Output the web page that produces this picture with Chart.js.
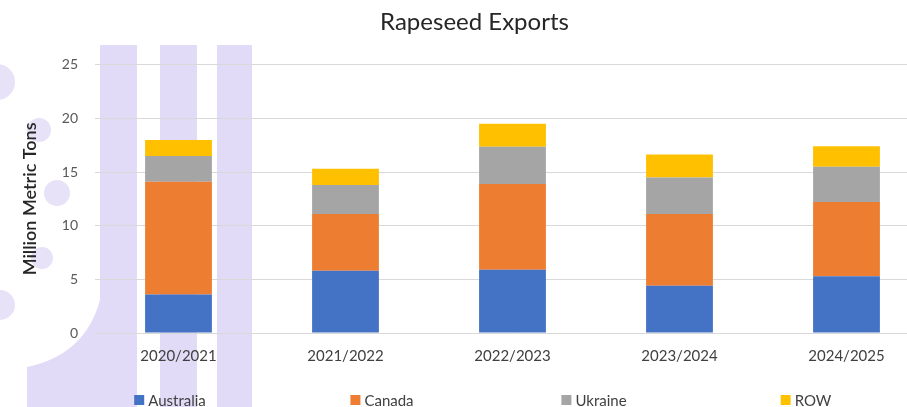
<!DOCTYPE html>
<html>
<head>
<meta charset="utf-8">
<script src="https://cdn.jsdelivr.net/npm/chart.js@4.4.1/dist/chart.umd.min.js"></script>
<style>
  html, body { margin: 0; padding: 0; background: #ffffff; overflow: hidden; }
  #wrap { position: relative; width: 935px; height: 418px; }
</style>
</head>
<body>
<div id="wrap"><canvas id="c"></canvas></div>
<script>
// Marketing years on the category axis
const seasons = ['2020/2021', '2021/2022', '2022/2023', '2023/2024', '2024/2025'];

// Exports by origin, million metric tons
const australia = [3.6, 5.8, 5.9, 4.4, 5.3];
const canada    = [10.5, 5.3, 8.0, 6.7, 6.9];
const ukraine   = [2.4, 2.7, 3.45, 3.4, 3.3];
const row       = [1.5, 1.5, 2.15, 2.15, 1.9];

// Value axis ticks
const yTicks = [0, 5, 10, 15, 20, 25];

// Faint lavender logo sitting behind the plot
const backdrop = {
  id: 'backdrop',
  beforeDraw(chart) {
    const ctx = chart.ctx;
    ctx.save();
    ctx.fillStyle = 'rgba(212, 202, 243, 0.68)';
    // three vertical stripes
    [[100, 37], [160, 37], [217, 35]].forEach(([x, w]) => ctx.fillRect(x, 45, w, chart.height));
    // curved lower-left wedge
    ctx.beginPath();
    ctx.moveTo(100, 300);
    ctx.quadraticCurveTo(85, 355, 27, 367);
    ctx.lineTo(27, chart.height);
    ctx.lineTo(100, chart.height);
    ctx.closePath();
    ctx.fill();
    // dots along the arc
    ctx.fillStyle = 'rgba(212, 202, 243, 0.55)';
    [[-3, 82, 18], [39, 130, 12], [57, 193, 13], [42, 258, 11], [0, 305, 15]].forEach(([x, y, r]) => {
      ctx.beginPath();
      ctx.arc(x, y, r, 0, Math.PI * 2);
      ctx.fill();
    });
    ctx.restore();
  }
};

// Bottom legend with each entry centred in an equal-width slot
const slotLegend = {
  id: 'slotLegend',
  afterDraw(chart, args, opts) {
    const ctx = chart.ctx;
    const sets = chart.data.datasets;
    const n = sets.length;
    const left = opts.center - (n * opts.slot) / 2;
    ctx.save();
    ctx.font = opts.font;
    ctx.textBaseline = 'middle';
    ctx.textAlign = 'left';
    sets.forEach((d, i) => {
      const tw = ctx.measureText(d.label).width;
      const w = opts.box + opts.gap + tw;
      const x = left + opts.slot * (i + 0.5) - w / 2;
      ctx.fillStyle = d.backgroundColor;
      ctx.fillRect(x, opts.y - opts.box / 2, opts.box, opts.box);
      ctx.fillStyle = opts.color;
      ctx.fillText(d.label, x + opts.box + opts.gap, opts.y + 1);
    });
    ctx.restore();
  }
};

const ds = (label, data, color) => ({
  label, data, backgroundColor: color, borderWidth: 0,
  categoryPercentage: 0.8, barPercentage: 0.5
});

new Chart(document.getElementById('c'), {
  type: 'bar',
  data: {
    labels: seasons,
    datasets: [
      ds('Australia', australia, '#4472C4'),
      ds('Canada', canada, '#ED7D31'),
      ds('Ukraine', ukraine, '#A5A5A5'),
      ds('ROW', row, '#FFC000')
    ]
  },
  options: {
    responsive: true,
    maintainAspectRatio: false,
    animation: false,
    layout: { padding: { left: 19, right: 5, top: 0, bottom: 47 } },
    plugins: {
      tooltip: { enabled: false },
      legend: { display: false },
      title: {
        display: true,
        text: 'Rapeseed Exports',
        color: '#262626',
        font: { family: 'Lato', size: 24, weight: 'normal' },
        padding: { top: 8, bottom: 28 }
      },
      slotLegend: {
        center: 488,
        slot: 212,
        y: 400,
        box: 10,
        gap: 4,
        color: '#404040',
        font: '15px Lato'
      }
    },
    scales: {
      x: {
        stacked: true,
        grid: { display: false },
        border: { display: false },
        ticks: { color: '#404040', font: { family: 'Lato', size: 15 }, padding: 6 }
      },
      y: {
        stacked: true,
        min: 0,
        max: 25,
        afterBuildTicks(scale) { scale.ticks = yTicks.map(v => ({ value: v })); },
        afterFit(scale) { scale.width = 76; },
        grid: { color: '#d9d9d9', lineWidth: 1, drawTicks: false },
        border: { display: false },
        ticks: { color: '#595959', font: { family: 'Lato', size: 14 }, padding: 17 },
        title: {
          display: true,
          text: 'Million Metric Tons',
          color: '#262626',
          font: { family: 'Lato', size: 18, weight: '600' },
          padding: 0
        }
      }
    }
  },
  plugins: [backdrop, slotLegend]
});
</script>
</body>
</html>
